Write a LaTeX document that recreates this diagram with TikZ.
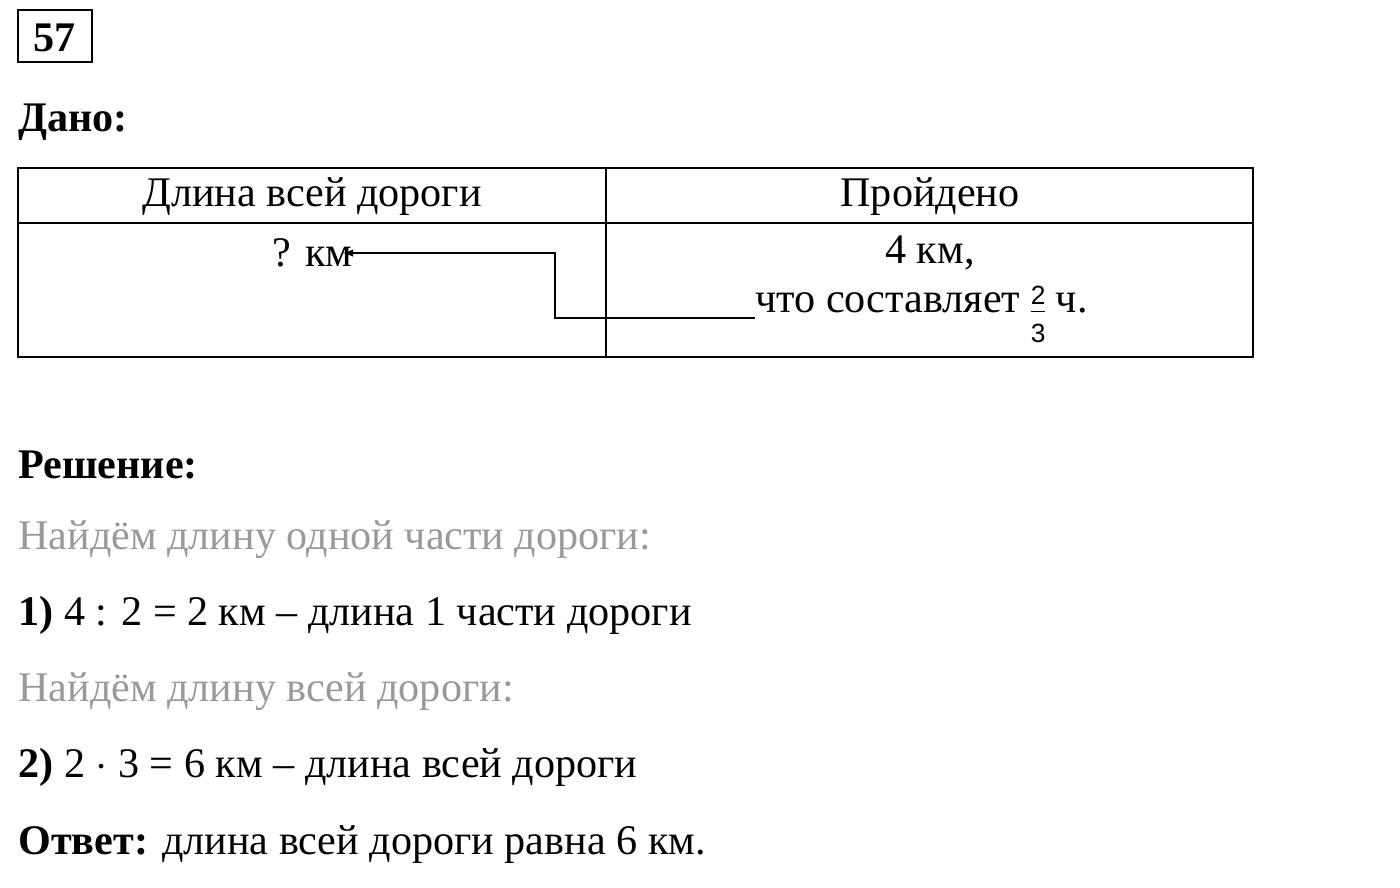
\documentclass[tikz,border=0pt]{standalone}
\usepackage{fontspec}
\setmainfont{Liberation Serif}
\newfontfamily\fracfont{Liberation Sans}
\newcommand{\smallfrac}[2]{\raisebox{-0.6ex}{\fracfont\fontsize{15}{15}\selectfont
  \setlength{\tabcolsep}{0pt}\renewcommand{\arraystretch}{1.05}\begin{tabular}{c}#1\\[-1pt]\hline\rule{0pt}{2.2ex}#2\end{tabular}}}
\begin{document}
\begin{tikzpicture}[x=0.02cm,y=-0.02cm,
  txt/.style={inner sep=0pt,font=\fontsize{24}{28}\selectfont},
  hint/.style={txt,text=black!40},
  grid/.style={line width=1.2pt}]
\useasboundingbox (0,0) rectangle (1400,887);
%% number of the task
\draw[line width=1.6pt] (18,10) rectangle (92,62);
\node[txt,font=\fontsize{24}{28}\selectfont\bfseries] (num) at (55,38) {57};
\node[txt,anchor=west,font=\fontsize{24}{28}\selectfont\bfseries] (given) at (18,122) {Дано:};
%% the table
\draw[grid] (18,168) rectangle (1253,357);
\draw[grid] (18,223) -- (1253,223);
\draw[grid] (606,168) -- (606,357);
\node[txt] (hlen) at (312,197) {Длина всей дороги};
\node[txt] (hdone) at (930,197) {Пройдено};
\node[txt,anchor=east] (q) at (353,253) {? км};
\node[txt] (four) at (930,253) {4 км,};
\node[txt,anchor=west] (part) at (755,318) {что составляет \smallfrac{2}{3} ч.};
\coordinate (bend) at (555,318);
\draw[line width=1pt,-latex] (part.west) -- (bend) |- ([xshift=-0.2cm]q.east);
%% solution
\node[txt,anchor=west,font=\fontsize{24}{28}\selectfont\bfseries] (sol) at (18,465) {Решение:};
\node[hint,anchor=west] (h1) at (18,540) {Найдём длину одной части дороги:};
\node[txt,anchor=west] (s1) at (18,615) {\textbf{1)} 4 : 2 = 2 км – длина 1 части дороги};
\node[hint,anchor=west] (h2) at (18,692) {Найдём длину всей дороги:};
\node[txt,anchor=west] (s2) at (18,767) {\textbf{2)} 2 $\cdot$ 3 = 6 км – длина всей дороги};
\node[txt,anchor=west] (ans) at (18,845) {\textbf{Ответ:} длина всей дороги равна 6 км.};
\end{tikzpicture}
\end{document}
